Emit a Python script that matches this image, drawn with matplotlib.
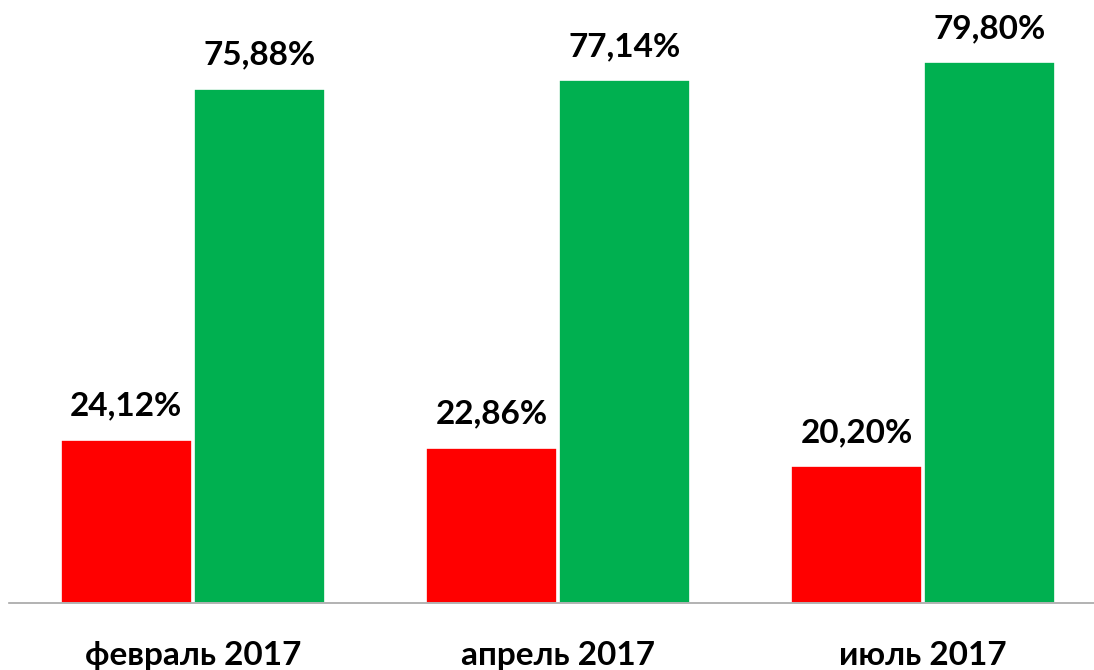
import numpy as np
import matplotlib.pyplot as plt

categories = ["февраль 2017", "апрель 2017", "июль 2017"]
red_vals = [24.12, 22.86, 20.20]
green_vals = [75.88, 77.14, 79.80]

plt.rcParams['font.family'] = ['Lato', 'DejaVu Sans']

fig = plt.figure(figsize=(10.94, 6.70), dpi=100)
ax = fig.add_axes([9/1094, 67/670, 1 - 9/1094, 603/670])

x = np.arange(len(categories))
w = 0.359
b1 = ax.bar(x - w/2 - 0.003, red_vals, w, color="#FF0000", edgecolor="white", linewidth=1.2)
b2 = ax.bar(x + w/2 + 0.003, green_vals, w, color="#00B050", edgecolor="white", linewidth=1.2)

def fmt(v):
    return f"{v:.2f}".replace(".", ",") + "%"

for bars, vals in ((b1, red_vals), (b2, green_vals)):
    for b, v in zip(bars, vals):
        ax.annotate(fmt(v), (b.get_x() + b.get_width()/2, v), xytext=(0, 17.5),
                    textcoords="offset points", ha="center", va="baseline",
                    fontsize=24, fontweight="bold", color="black")

ax.set_xlim(-0.504, 2.468)
ax.set_ylim(0, 89)
ax.set_xticks(x)
ax.set_xticklabels(categories, fontsize=24, fontweight="bold")
for lbl in ax.get_xticklabels():
    lbl.set_verticalalignment("baseline")
ax.tick_params(axis="x", length=0, pad=44.6)
ax.set_yticks([])
for s in ("top", "right", "left"):
    ax.spines[s].set_visible(False)
ax.spines["bottom"].set_color("#a6a6a6")
ax.spines["bottom"].set_linewidth(1.2)

fig.savefig("out.png", dpi=100)
